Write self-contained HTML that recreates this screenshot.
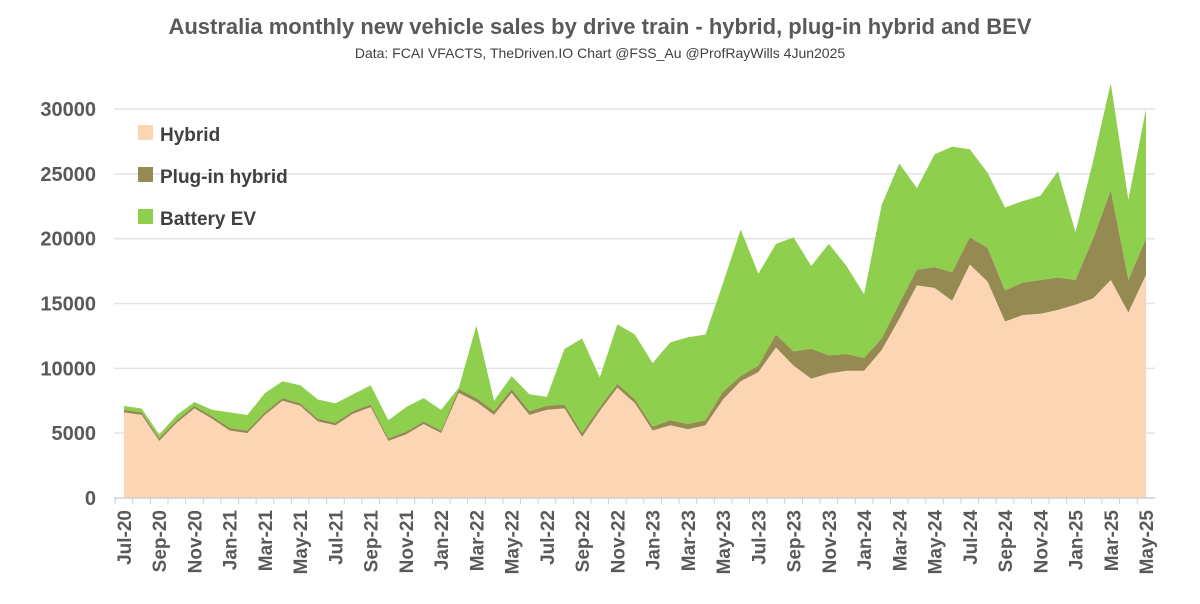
<!DOCTYPE html>
<html><head><meta charset="utf-8">
<style>
body{margin:0;background:#fff;width:1200px;height:599px;overflow:hidden;font-family:"Liberation Sans",sans-serif}
svg text{font-family:"Liberation Sans",sans-serif}
</style></head>
<body>
<svg id="chart" width="1200" height="599" viewBox="0 0 1200 599">
<text x="600" y="34" text-anchor="middle" font-size="22" font-weight="bold" fill="#595959">Australia monthly new vehicle sales by drive train - hybrid, plug-in hybrid and BEV</text>
<text x="600" y="58" text-anchor="middle" font-size="14" fill="#404040">Data: FCAI VFACTS, TheDriven.IO  Chart @FSS_Au @ProfRayWills 4Jun2025</text>
<g id="grid"></g>
<g id="areas"></g>
<g id="axes"></g>
<g>
<rect x="138" y="125" width="15" height="15" fill="#fbd5b4"/>
<text x="160" y="141" font-size="19" font-weight="bold" fill="#404040">Hybrid</text>
<rect x="138" y="167" width="15" height="15" fill="#968a53"/>
<text x="160" y="183" font-size="19" font-weight="bold" fill="#404040">Plug-in hybrid</text>
<rect x="138" y="209" width="15" height="15" fill="#8ecf4e"/>
<text x="160" y="225" font-size="19" font-weight="bold" fill="#404040">Battery EV</text>
</g>
</svg>
<script>
const months = ["Jul-20","Aug-20","Sep-20","Oct-20","Nov-20","Dec-20","Jan-21","Feb-21","Mar-21","Apr-21","May-21","Jun-21","Jul-21","Aug-21","Sep-21","Oct-21","Nov-21","Dec-21","Jan-22","Feb-22","Mar-22","Apr-22","May-22","Jun-22","Jul-22","Aug-22","Sep-22","Oct-22","Nov-22","Dec-22","Jan-23","Feb-23","Mar-23","Apr-23","May-23","Jun-23","Jul-23","Aug-23","Sep-23","Oct-23","Nov-23","Dec-23","Jan-24","Feb-24","Mar-24","Apr-24","May-24","Jun-24","Jul-24","Aug-24","Sep-24","Oct-24","Nov-24","Dec-24","Jan-25","Feb-25","Mar-25","Apr-25","May-25"];
const hybrid = [6600,6400,4400,5800,6900,6100,5200,5000,6400,7500,7100,5900,5600,6500,7000,4400,4900,5700,5000,8100,7400,6400,8100,6400,6800,6900,4700,6700,8500,7300,5200,5600,5300,5600,7600,9000,9700,11600,10200,9200,9600,9800,9800,11400,13800,16400,16200,15200,18000,16700,13600,14100,14200,14500,14900,15400,16800,14300,17200];
const phev = [200,200,200,200,200,200,200,200,200,200,200,200,200,200,200,200,200,200,200,300,300,300,300,300,300,300,300,300,300,300,300,400,400,400,600,400,500,1000,1100,2300,1400,1300,1000,900,1200,1200,1600,2200,2100,2600,2400,2500,2600,2500,1900,4600,6900,2500,2800];
const bev = [300,300,300,400,300,500,1200,1200,1500,1300,1400,1500,1500,1300,1500,1400,1900,1800,1600,100,5600,800,1000,1300,700,4300,7300,2300,4600,5000,4900,6000,6700,6600,8400,11300,7100,7000,8800,6400,8600,6800,4900,10300,10800,6300,8700,9700,6800,5800,6400,6300,6500,8200,3700,6000,8300,6200,10000];
const yTicks = [0,5000,10000,15000,20000,25000,30000];

const NS="http://www.w3.org/2000/svg";
const x0=124, x1=1146, y0=498, yTop=109, yMax=30000;
const xs=i=>x0+(x1-x0)*i/(months.length-1);
const ys=v=>y0-(y0-yTop)*v/yMax;
function mk(t,attrs,parent){const e=document.createElementNS(NS,t);for(const k in attrs)e.setAttribute(k,attrs[k]);parent.appendChild(e);return e;}
const grid=document.getElementById('grid'), areas=document.getElementById('areas'), axes=document.getElementById('axes');
yTicks.forEach(t=>{
  if(t>0){const l=mk('line',{x1:114,x2:1155,y1:ys(t),y2:ys(t),stroke:'#e2e2e2','stroke-width':1.5},grid);
  
  }
  const tx=mk('text',{x:96,y:ys(t)+7,'text-anchor':'end','font-size':20,'font-weight':'bold',fill:'#595959'},axes);
  tx.textContent=t;
  
  
});
const c1=hybrid.map((v,i)=>v), c2=hybrid.map((v,i)=>v+phev[i]), c3=hybrid.map((v,i)=>v+phev[i]+bev[i]);
function area(top,bottom,fill,name){
  let d='M'+top.map((v,i)=>xs(i)+','+ys(v)).join(' L');
  for(let i=bottom.length-1;i>=0;i--)d+=' L'+xs(i)+','+ys(bottom[i]);
  d+='Z';
  const p=mk('path',{d:d,fill:fill},areas);
  
  
}
const zero=months.map(()=>0);
area(c3,c2,'#8ecf4e','area-battery-ev');
area(c2,c1,'#968a53','area-plug-in-hybrid');
area(c1,zero,'#fbd5b4','area-hybrid');
const ax=mk('line',{x1:114,x2:1155,y1:y0,y2:y0,stroke:'#d0d0d0','stroke-width':1.5},axes);


months.forEach((m,i)=>{
  const tk=mk('line',{x1:xs(i)-8.8,x2:xs(i)-8.8,y1:y0,y2:y0+6,stroke:'#d0d0d0','stroke-width':1},axes);
  
  
  if(i%2===0){
    const t=mk('text',{x:0,y:0,'text-anchor':'end','font-size':19,'font-weight':'bold',fill:'#595959',transform:`translate(${xs(i)+7},${y0+12}) rotate(-90)`},axes);
    t.textContent=m;
    
    
  }
});
</script>
</body></html>
